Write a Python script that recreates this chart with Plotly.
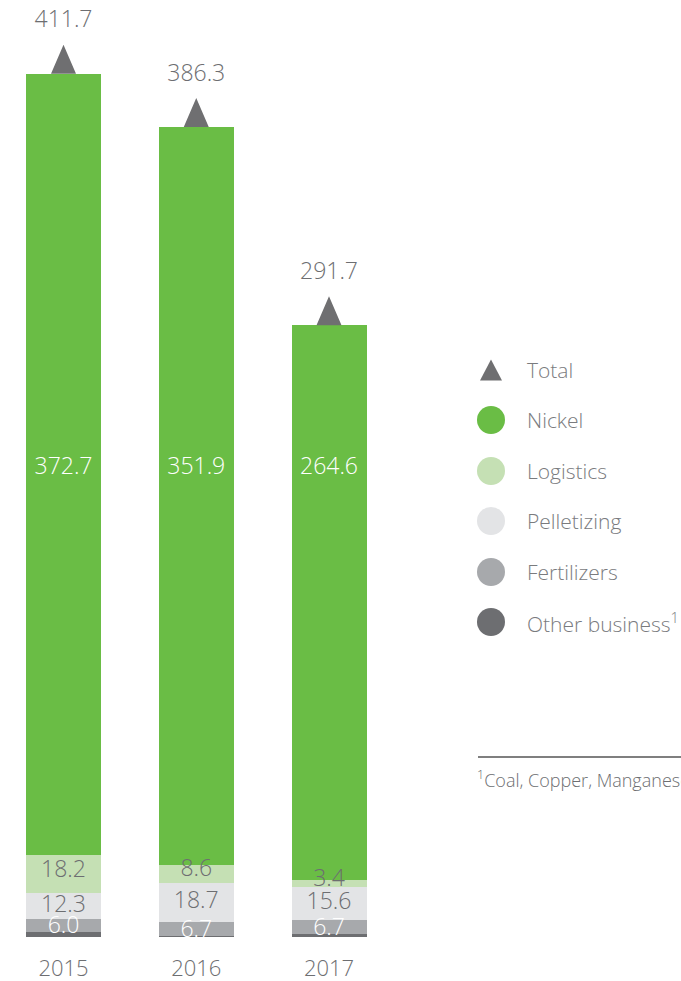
import plotly.graph_objects as go

# Revenue by segment (US$ million)
years = ["2015", "2016", "2017"]
nickel = [372.7, 351.9, 264.6]
logistics = [18.2, 8.6, 3.4]
pelletizing = [12.3, 18.7, 15.6]
fertilizers = [6.0, 6.7, 6.7]
other_business = [2.5, 0.4, 1.4]
totals = [411.7, 386.3, 291.7]

legend_labels = ["Total", "Nickel", "Logistics", "Pelletizing", "Fertilizers",
                 "Other business<sup>1</sup>"]
footnote = "<sup>1</sup>Coal, Copper, Manganese"

C_NICKEL = "#6abd45"
C_LOG = "#c5e0b4"
C_PEL = "#e3e4e6"
C_FERT = "#a7a9ac"
C_OTHER = "#6d6e71"
C_TRI = "#6f6f71"
C_TEXT = "#6d6e71"
C_LEG = "#7a7b7e"
FONT = "Open Sans"
WEIGHT = 300

W, H = 681, 981
PLOT_H = 937          # pixel row of the zero line
PX_PER_UNIT = 2.097
X_SPACING = 132.75    # pixels between bar centres
BAR_W = 75 / X_SPACING
Y_MAX = PLOT_H / PX_PER_UNIT
X_MIN = -63.5 / X_SPACING
X_MAX = (W - 63.5) / X_SPACING

xs = list(range(len(years)))
fig = go.Figure()

# stacked segments, bottom to top
stack = [
    (other_business, C_OTHER),
    (fertilizers, C_FERT),
    (pelletizing, C_PEL),
    (logistics, C_LOG),
    (nickel, C_NICKEL),
]
for vals, col in stack:
    fig.add_trace(go.Bar(x=xs, y=vals, width=BAR_W, marker=dict(color=col, line=dict(width=0)),
                         hoverinfo="skip", showlegend=False))

# segment value labels
def mids(lower_series, vals):
    out = []
    for i in range(len(vals)):
        base = sum(s[i] for s in lower_series)
        out.append(base + vals[i] / 2)
    return out

fert_mid = mids([other_business], fertilizers)
pel_mid = mids([other_business, fertilizers], pelletizing)
log_mid = mids([other_business, fertilizers, pelletizing], logistics)

label_font = dict(family=FONT, size=23, weight=WEIGHT)

def add_labels(ys, vals, color, shift=0.0):
    fig.add_trace(go.Scatter(
        x=xs, y=[y + shift for y in ys], mode="text",
        text=[f"{v:.1f}" for v in vals], textposition="middle center",
        textfont=dict(label_font, color=color), cliponaxis=False,
        hoverinfo="skip", showlegend=False))

add_labels(fert_mid, fertilizers, "white", shift=-1.0)
add_labels(pel_mid, pelletizing, C_TEXT)
add_labels(log_mid, logistics, C_TEXT, shift=1.5)
# nickel labels sit on a common line across the bars
add_labels([223.6] * len(xs), nickel, "white")

# total triangles on top of each bar
tri_half = 12.5 / X_SPACING
tri_h = 29 / PX_PER_UNIT
tx, ty = [], []
for i, t in enumerate(totals):
    tx += [i - tri_half, i + tri_half, i, i - tri_half, None]
    ty += [t, t, t + tri_h, t, None]
fig.add_trace(go.Scatter(x=tx, y=ty, mode="lines", fill="toself", fillcolor=C_TRI,
                         line=dict(width=0, color=C_TRI), hoverinfo="skip", showlegend=False))
fig.add_trace(go.Scatter(
    x=xs, y=[t + 52 / PX_PER_UNIT for t in totals], mode="text",
    text=[f"{t:.1f}" for t in totals], textposition="middle center",
    textfont=dict(label_font, color=C_TEXT), cliponaxis=False,
    hoverinfo="skip", showlegend=False))

# custom legend
def py(p):
    return (PLOT_H - p) / PLOT_H

shapes = []
annotations = []
leg_x = 491 / W
leg_rows = [370, 420, 471, 521, 572, 622]
leg_cols = [None, C_NICKEL, C_LOG, C_PEL, C_FERT, C_OTHER]
for lab, row, col in zip(legend_labels, leg_rows, leg_cols):
    if col is None:
        shapes.append(dict(type="path", xref="paper", yref="paper",
                           xsizemode="pixel", ysizemode="pixel",
                           xanchor=leg_x, yanchor=py(row),
                           path="M -11,-10.5 L 11,-10.5 L 0,10.5 Z",
                           fillcolor=C_TRI, line=dict(width=0)))
    else:
        shapes.append(dict(type="circle", xref="paper", yref="paper",
                           xsizemode="pixel", ysizemode="pixel",
                           xanchor=leg_x, yanchor=py(row),
                           x0=-14, x1=14, y0=-14, y1=14,
                           fillcolor=col, line=dict(width=0)))
    annotations.append(dict(x=525 / W, y=py(row), xref="paper", yref="paper",
                            xanchor="left", yanchor="middle", showarrow=False,
                            text=lab, font=dict(family=FONT, size=21, weight=WEIGHT, color=C_LEG)))

# footnote rule and text
shapes.append(dict(type="line", xref="paper", yref="paper",
                   x0=478 / W, x1=1, y0=py(757), y1=py(757),
                   line=dict(color="#7f7f7f", width=2)))
annotations.append(dict(x=475 / W, y=py(779), xref="paper", yref="paper",
                        xanchor="left", yanchor="middle", showarrow=False,
                        text=footnote, font=dict(family=FONT, size=18, weight=WEIGHT, color=C_TEXT)))

fig.update_layout(
    width=W, height=H, barmode="stack", bargap=0,
    margin=dict(l=0, r=0, t=0, b=H - PLOT_H, pad=0),
    paper_bgcolor="white", plot_bgcolor="white",
    shapes=shapes, annotations=annotations,
    xaxis=dict(range=[X_MIN, X_MAX], tickmode="array", tickvals=xs, ticktext=years,
               showgrid=False, zeroline=False, showline=False, ticks="",
               tickfont=dict(family=FONT, size=22, weight=WEIGHT, color=C_TEXT),
               ticklabelstandoff=16),
    yaxis=dict(range=[0, Y_MAX], visible=False, showgrid=False, zeroline=False),
    showlegend=False,
)

fig.write_html("out.html")
